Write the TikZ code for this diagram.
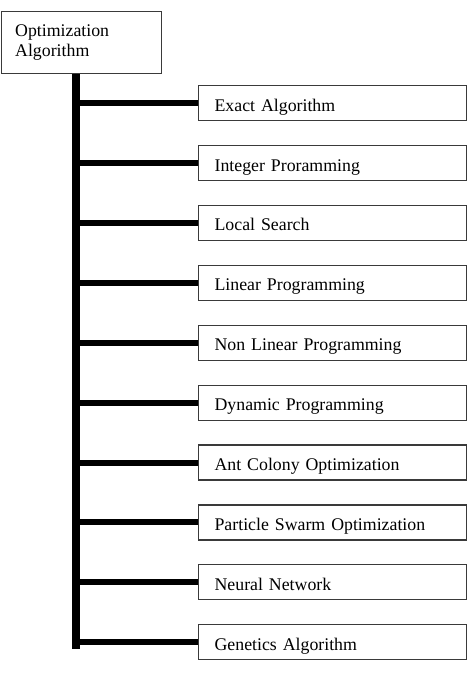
\documentclass[tikz,border=0pt]{standalone}
\usepackage{fontspec}
\setmainfont{Liberation Serif}
\usetikzlibrary{positioning}
\definecolor{cframe}{HTML}{3A3A3A}

\tikzset{
  rootbox/.style={draw=cframe, line width=1.2pt, anchor=north west,
    minimum width=160pt, minimum height=62pt, text width=132pt,
    inner xsep=14pt, align=left, font=\fontsize{17.8}{20}\selectfont},
  algobox/.style={draw=cframe, line width=1.2pt, anchor=north west,
    minimum width=268pt, minimum height=35pt, text width=236pt,
    text height=16pt, text depth=0pt,
    inner xsep=16pt, align=left, font=\fontsize{17.8}{20}\selectfont},
  trunk/.style={line width=8pt},
  branch/.style={line width=6pt}
}

\begin{document}
\begin{tikzpicture}[x=1pt, y=-1pt]
  \useasboundingbox (0,0) rectangle (473,675);
  % root box
  \node[rootbox] (root) at (0.6,11) {Optimization\\Algorithm};
  % trunk
  \coordinate (trunkend) at (76,649);
  \draw[trunk] (root.south -| trunkend) -- (trunkend);
  % algorithm boxes and branches
  \foreach \t [count=\i from 0] in {Exact Algorithm, Integer Proramming,
      Local Search, Linear Programming, Non Linear Programming,
      Dynamic Programming, Ant Colony Optimization,
      Particle Swarm Optimization, Neural Network, Genetics Algorithm}{
    \node[algobox] (alg\i) at (198, 85+59.9*\i) {\t};
    \draw[branch] (alg\i.west) -- (alg\i.west -| trunkend);
  }
\end{tikzpicture}
\end{document}
